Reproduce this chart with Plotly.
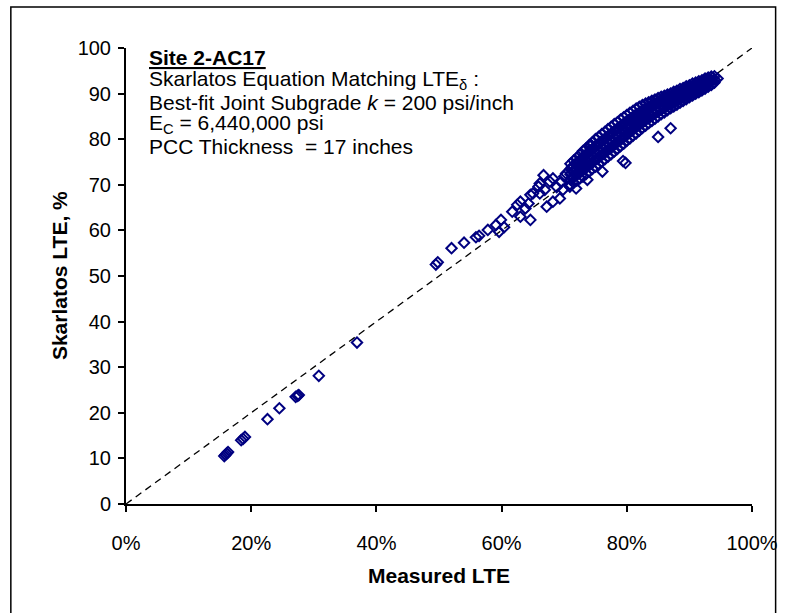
import plotly.graph_objects as go

# ---- data ----
low_measured = [15.7, 15.9, 16.1, 16.3, 18.4, 18.7, 19.0, 22.6, 24.5, 27.1, 27.4, 27.6, 30.8, 36.9]
low_skarlatos = [10.5, 10.8, 11.1, 11.4, 14.0, 14.3, 14.7, 18.6, 21.0, 23.5, 23.7, 23.9, 28.1, 35.4]

mid_measured = [49.5, 49.8, 52.0, 54.0, 55.9, 56.4, 57.8, 59.1, 59.9, 59.6, 60.4, 61.7,
                62.5, 63.0, 63.0, 64.6, 63.8, 64.3, 64.6, 65.0, 65.9, 66.1, 66.7, 67.2,
                68.2, 69.3, 67.7, 68.2, 66.1, 66.9, 70.3, 69.8, 70.9, 68.8, 69.5, 70.0]
mid_skarlatos = [52.5, 53.0, 56.1, 57.3, 58.5, 58.8, 60.1, 61.2, 62.3, 59.7, 60.7, 64.1,
                 65.6, 66.3, 63.0, 62.3, 64.8, 65.9, 67.8, 68.1, 69.6, 70.3, 72.1, 65.2,
                 66.3, 67.0, 70.7, 71.4, 68.1, 68.9, 72.5, 68.9, 69.6, 69.5, 70.6, 71.8]

outlier_measured = [79.4, 79.8, 85.0, 87.0, 73.7, 71.9, 76.1, 74.3, 78.7, 80.5, 83.2]
outlier_skarlatos = [75.2, 74.8, 80.5, 82.4, 71.1, 69.2, 72.9, 78.7, 82.4, 84.2, 86.0]

# dense band: (measured LTE %, [Skarlatos LTE values at that measured LTE])
band_columns = [
    (71.0, [70.0, 71.2, 72.3, 73.4, 74.6]),
    (71.5, [70.5, 71.7, 72.9, 74.1, 75.3]),
    (72.0, [70.9, 72.2, 73.4, 74.7, 75.9]),
    (72.5, [71.4, 72.7, 74.0, 75.3, 76.6]),
    (73.0, [71.8, 73.2, 74.6, 76.0, 77.4]),
    (73.5, [72.4, 73.8, 75.2, 76.6, 78.0]),
    (74.0, [72.9, 74.3, 75.8, 77.2, 78.7]),
    (74.5, [73.5, 74.9, 76.4, 77.8, 79.3]),
    (75.0, [74.0, 75.5, 77.0, 78.5, 80.0]),
    (75.5, [74.5, 76.0, 77.5, 79.0, 80.5]),
    (76.0, [75.1, 76.6, 78.1, 79.6, 81.1]),
    (76.5, [75.6, 77.1, 78.6, 80.1, 81.6]),
    (77.0, [76.2, 77.7, 79.2, 80.7, 82.2]),
    (77.5, [76.7, 78.2, 79.7, 81.2, 82.7]),
    (78.0, [77.3, 78.8, 80.3, 81.8, 83.3]),
    (78.5, [77.9, 79.4, 80.8, 82.3, 83.7]),
    (79.0, [78.5, 79.9, 81.4, 82.8, 84.3]),
    (79.5, [79.0, 80.5, 81.9, 83.4, 84.8]),
    (80.0, [79.7, 81.1, 82.5, 83.9, 85.3]),
    (80.5, [80.2, 81.6, 83.0, 84.4, 85.8]),
    (81.0, [80.8, 82.2, 83.5, 84.9, 86.2]),
    (81.5, [81.3, 82.7, 84.0, 85.4, 86.7]),
    (82.0, [81.9, 83.2, 84.5, 85.8, 87.1]),
    (82.5, [82.5, 83.8, 85.0, 86.3, 87.5]),
    (83.0, [83.0, 84.2, 85.4, 86.6, 87.8]),
    (83.5, [83.5, 84.7, 85.8, 87.0, 88.1]),
    (84.0, [84.0, 85.1, 86.2, 87.3, 88.4]),
    (84.5, [84.5, 85.6, 86.6, 87.7, 88.7]),
    (85.0, [85.0, 86.0, 87.0, 88.0, 89.0]),
    (85.5, [85.5, 86.5, 87.4, 88.4, 89.3]),
    (86.0, [85.9, 86.8, 87.7, 88.6, 89.5]),
    (86.5, [86.4, 87.3, 88.1, 89.0, 89.8]),
    (87.0, [86.8, 87.6, 88.4, 89.2, 90.0]),
    (87.5, [87.2, 88.0, 88.8, 89.6, 90.4]),
    (88.0, [87.6, 88.4, 89.1, 89.9, 90.6]),
    (88.5, [88.0, 88.8, 89.5, 90.3, 91.0]),
    (89.0, [88.4, 89.1, 89.8, 90.5, 91.2]),
    (89.5, [88.8, 89.5, 90.2, 90.9, 91.6]),
    (90.0, [89.2, 89.9, 90.5, 91.2, 91.8]),
    (90.5, [89.6, 90.3, 90.9, 91.6, 92.2]),
    (91.0, [90.0, 90.6, 91.2, 91.8, 92.4]),
    (91.5, [90.3, 90.9, 91.5, 92.1, 92.7]),
    (92.0, [90.7, 91.3, 91.8, 92.4, 92.9]),
    (92.5, [91.1, 91.7, 92.2, 92.8, 93.3]),
    (93.0, [91.5, 92.0, 92.5, 93.0, 93.5]),
    (93.5, [91.9, 92.8, 93.7]),
    (94.0, [92.4, 93.1, 93.8]),
    (94.5, [93.3]),
]

# staggered points in between the columns of the dense band
band_fill_measured = [71.25, 71.75, 72.25, 72.75, 73.25, 73.75, 74.25, 74.75, 75.25, 75.75,
                      76.25, 76.75, 77.25, 77.75, 78.25, 78.75, 79.25, 79.75, 80.25, 80.75,
                      81.25, 81.75, 82.25, 82.75, 83.25, 83.75, 84.25, 84.75, 85.25, 85.75,
                      86.25, 86.75, 87.25, 87.75, 88.25, 88.75, 89.25, 89.75, 90.25, 90.75]
band_fill_low = [71.5, 72.0, 72.5, 73.0, 73.5, 74.1, 74.6, 75.2, 75.7, 76.3,
                 76.8, 77.4, 77.9, 78.5, 79.1, 79.6, 80.2, 80.7, 81.3, 81.9,
                 82.4, 83.0, 83.5, 84.1, 84.6, 85.1, 85.6, 86.1, 86.6, 87.0,
                 87.4, 87.8, 88.2, 88.6, 89.0, 89.4, 89.8, 90.2, 90.6, 91.0]
band_fill_high = [73.9, 74.5, 75.1, 75.7, 76.3, 76.9, 77.5, 78.0, 78.6, 79.2,
                  79.8, 80.3, 80.9, 81.4, 82.0, 82.5, 83.0, 83.6, 84.1, 84.6,
                  85.1, 85.5, 86.0, 86.4, 86.8, 87.2, 87.6, 87.9, 88.3, 88.6,
                  88.9, 89.2, 89.5, 89.8, 90.1, 90.4, 90.7, 91.0, 91.3, 91.6]

equality_x = [0, 100]
equality_y = [0, 100]

x_ticks = [0, 20, 40, 60, 80, 100]
x_tick_labels = ["0%", "20%", "40%", "60%", "80%", "100%"]
y_ticks = [0, 10, 20, 30, 40, 50, 60, 70, 80, 90, 100]

note_lines = [
    "<b><u>Site 2-AC17</u></b>",
    "Skarlatos Equation Matching LTE<sub>δ</sub> :",
    "Best-fit Joint Subgrade <i>k</i> = 200 psi/inch",
    "E<sub>C</sub> = 6,440,000 psi",
    "PCC Thickness \u00a0= 17 inches",
]

# ---- assemble ----
measured = low_measured + mid_measured + outlier_measured
skarlatos = low_skarlatos + mid_skarlatos + outlier_skarlatos
for m, vals in band_columns:
    for s in vals:
        measured.append(m)
        skarlatos.append(s)
measured += band_fill_measured + band_fill_measured
skarlatos += band_fill_low + band_fill_high

FONT = "Liberation Sans, Arial, sans-serif"
W, H = 790, 613
L, R, T, B = 126, 28, 48, 109
pw, ph = W - L - R, H - T - B

def px(xp):
    return (xp - L) / pw

def py(yp):
    return (H - B - yp) / ph

fig = go.Figure()
fig.add_trace(go.Scatter(
    x=equality_x, y=equality_y, mode="lines",
    line=dict(color="black", width=1.3, dash="7px,5px"),
    hoverinfo="skip", showlegend=False,
))
fig.add_trace(go.Scatter(
    x=measured, y=skarlatos, mode="markers",
    marker=dict(symbol="diamond-open", size=8, color="#000080",
                line=dict(color="#000080", width=2)),
    showlegend=False,
))

annotations = []
line_centers = [58, 80, 102, 124, 146]
for txt, yc in zip(note_lines, line_centers):
    annotations.append(dict(
        text=txt, xref="paper", yref="paper", x=px(147), y=py(yc),
        xanchor="left", yanchor="middle", showarrow=False,
        font=dict(family=FONT, size=21, color="black"),
    ))
annotations.append(dict(
    text="<b>Measured LTE</b>", xref="paper", yref="paper", x=0.5, y=py(575),
    xanchor="center", yanchor="middle", showarrow=False,
    font=dict(family=FONT, size=21, color="black"),
))
annotations.append(dict(
    text="<b>Skarlatos LTE, %</b>", xref="paper", yref="paper", x=px(58), y=py(276),
    xanchor="center", yanchor="middle", showarrow=False, textangle=-90,
    font=dict(family=FONT, size=21, color="black"),
))

fig.update_layout(
    width=W, height=H,
    margin=dict(l=L, r=R, t=T, b=B, pad=0),
    paper_bgcolor="white", plot_bgcolor="white",
    font=dict(family=FONT, size=20, color="black"),
    annotations=annotations,
    shapes=[dict(type="rect", xref="paper", yref="paper",
                 x0=px(9), x1=px(786), y0=py(625), y1=py(7),
                 line=dict(color="black", width=1.5), layer="below")],
    xaxis=dict(range=[0, 100], tickvals=x_ticks, ticktext=x_tick_labels,
               showgrid=False, zeroline=False, showline=True, linecolor="black",
               linewidth=2, ticks="outside", ticklen=6, tickwidth=1.5, tickcolor="black",
               ticklabelstandoff=14, tickfont=dict(family=FONT, size=20)),
    yaxis=dict(range=[0, 100], tickvals=y_ticks,
               showgrid=False, zeroline=False, showline=True, linecolor="black",
               linewidth=2, ticks="outside", ticklen=6, tickwidth=1.5, tickcolor="black",
               ticklabelstandoff=3, tickfont=dict(family=FONT, size=20)),
)

fig.write_html("out.html")
